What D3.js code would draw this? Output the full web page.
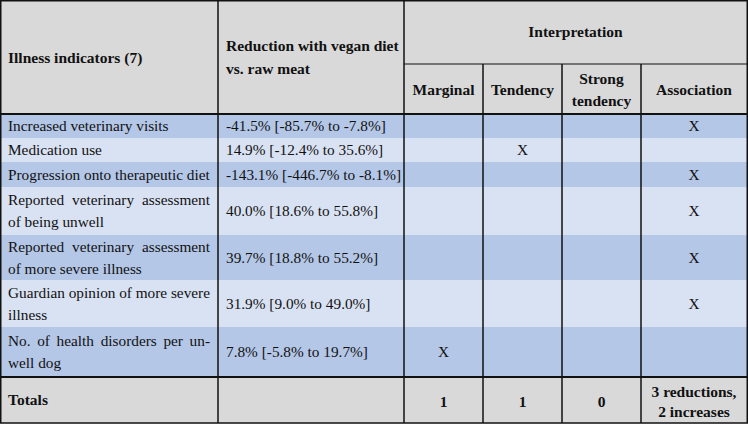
<!DOCTYPE html>
<html><head><meta charset="utf-8">
<script src="https://cdn.jsdelivr.net/npm/d3@7"></script>
<style>html,body{margin:0;padding:0;background:#fff;}svg{display:block;}</style>
</head><body>
<svg id="t" width="748" height="424"></svg>
<script>
// ---- data ----
const headerFirst = "Illness indicators (7)";
const headerSecond = ["Reduction with vegan diet", "vs. raw meat"];
const headerGroup = "Interpretation";
const interpretationCols = [["Marginal"], ["Tendency"], ["Strong", "tendency"], ["Association"]];
const interpretationKeys = ["Marginal", "Tendency", "Strong tendency", "Association"];
const indicators = [
  ["Increased veterinary visits"],
  ["Medication use"],
  ["Progression onto therapeutic diet"],
  ["Reported veterinary assessment", "of being unwell"],
  ["Reported veterinary assessment", "of more severe illness"],
  ["Guardian opinion of more severe", "illness"],
  ["No. of health disorders per un-", "well dog"]
];
const reductions = [
  "-41.5% [-85.7% to -7.8%]",
  "14.9% [-12.4% to 35.6%]",
  "-143.1% [-446.7% to -8.1%]",
  "40.0% [18.6% to 55.8%]",
  "39.7% [18.8% to 55.2%]",
  "31.9% [9.0% to 49.0%]",
  "7.8% [-5.8% to 19.7%]"
];
const marks = ["Association", "Tendency", "Association", "Association", "Association", "Association", "Marginal"];
const totalsLabel = "Totals";
const totals = [["1"], ["1"], ["0"], ["3 reductions,", "2 increases"]];

// ---- layout ----
const W = 748, H = 424;
const colEdges = [0, 218, 404, 483, 562, 641, 747];
const rowEdges = [114, 138, 162, 187, 235, 280, 327, 377];
const headTop = 0, headMid = 64, headBot = 114, bottom = 423;
const FONT = "'Liberation Serif', 'Times New Roman', serif";
const FS = 15.3, FSB = 15.5;
const LH = 22;
const cDark = "#b4c7e7", cLight = "#d9e2f3", cGray = "#d9d9d9";

const svg = d3.select("#t");
const x = d3.scaleOrdinal().domain(d3.range(colEdges.length)).range(colEdges);

// backgrounds
svg.append("rect").attr("x", 0).attr("y", 0).attr("width", W).attr("height", headBot).attr("fill", cGray);
svg.selectAll("rect.row").data(indicators).join("rect").attr("class", "row")
  .attr("x", 0).attr("y", (d, i) => rowEdges[i]).attr("width", W)
  .attr("height", (d, i) => rowEdges[i + 1] - rowEdges[i])
  .attr("fill", (d, i) => i % 2 === 0 ? cDark : cLight);
svg.append("rect").attr("x", 0).attr("y", rowEdges[7]).attr("width", W).attr("height", bottom - rowEdges[7]).attr("fill", cGray);

function lines(g, arr, cx, cy, anchor, bold, lh) {
  const n = arr.length;
  lh = lh || LH;
  arr.forEach((s, k) => {
    g.append("text").attr("x", cx).attr("y", cy + (k - (n - 1) / 2) * lh)
      .attr("dy", "0.35em").attr("text-anchor", anchor)
      .attr("font-family", FONT).attr("font-size", bold ? FSB : FS)
      .attr("font-weight", bold ? "bold" : "normal").attr("fill", "#111").text(s);
  });
}
const mid = (a, b) => (a + b) / 2;
const g = svg.append("g");

// header
lines(g, [headerFirst], 8, mid(headTop, headBot) + 1, "start", true);
lines(g, headerSecond, 226, mid(headTop, headBot), "start", true, 23);
lines(g, [headerGroup], mid(colEdges[2], colEdges[6]), mid(headTop, headMid), "middle", true);
interpretationCols.forEach((c, j) => lines(g, c, mid(colEdges[j + 2], colEdges[j + 3]), mid(headMid, headBot) + 1, "middle", true));

// body
const justifyWidth = 202;
indicators.forEach((ls, i) => {
  const cy = mid(rowEdges[i], rowEdges[i + 1]);
  const n = ls.length;
  ls.forEach((s, k) => {
    const y = cy + (k - (n - 1) / 2) * LH;
    const t = g.append("text").attr("x", 8).attr("y", y).attr("dy", "0.35em")
      .attr("font-family", FONT).attr("font-size", FS).attr("fill", "#111");
    if (n > 1 && k < n - 1) {
      // justified line
      const words = s.split(" ");
      const tmp = [];
      words.forEach(w => { const tt = t.append("tspan").text(w); tmp.push(tt); });
      const widths = tmp.map(tt => tt.node().getComputedTextLength());
      const total = d3.sum(widths);
      const gap = (justifyWidth - total) / (words.length - 1);
      let cx = 8;
      tmp.forEach((tt, m) => { tt.attr("x", cx); cx += widths[m] + gap; });
    } else {
      t.text(s);
    }
  });
  lines(g, [reductions[i]], 226, cy, "start", false);
  const j = interpretationKeys.indexOf(marks[i]);
  lines(g, ["X"], mid(colEdges[j + 2], colEdges[j + 3]), cy, "middle", false);
});

// totals
const ty = mid(rowEdges[7], bottom);
lines(g, [totalsLabel], 8, ty, "start", true);
totals.forEach((c, j) => lines(g, c, mid(colEdges[j + 2], colEdges[j + 3]), ty + 2, "middle", true, 20));

// borders
const L = svg.append("g").attr("stroke", "#111").attr("fill", "none");
L.append("rect").attr("x", 0.75).attr("y", 0.75).attr("width", W - 1.5).attr("height", bottom - 0.75).attr("stroke-width", 1.5);
[1, 2].forEach(c => L.append("line").attr("x1", x(c)).attr("x2", x(c)).attr("y1", 0).attr("y2", bottom).attr("stroke-width", 1.5));
[3, 4, 5].forEach(c => L.append("line").attr("x1", x(c)).attr("x2", x(c)).attr("y1", headMid).attr("y2", bottom).attr("stroke-width", 1.5));
L.append("line").attr("x1", colEdges[2]).attr("x2", W).attr("y1", headMid).attr("y2", headMid).attr("stroke-width", 1.2);
L.append("line").attr("x1", 0).attr("x2", W).attr("y1", headBot).attr("y2", headBot).attr("stroke-width", 2);
L.append("line").attr("x1", 0).attr("x2", W).attr("y1", rowEdges[7]).attr("y2", rowEdges[7]).attr("stroke-width", 2);
</script>
</body></html>
